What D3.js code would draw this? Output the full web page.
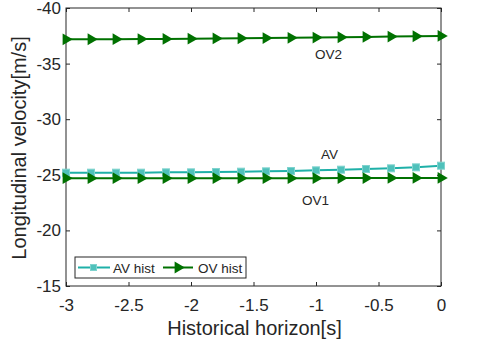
<!DOCTYPE html>
<html>
<head>
<meta charset="utf-8">
<script src="https://cdn.jsdelivr.net/npm/d3@7"></script>
<style>
	body { margin: 0; background: #fff; }
	text { font-family: "Liberation Sans", Arial, sans-serif; fill: #262626; }
</style>
</head>
<body>
<svg id="chart" width="480" height="349"></svg>
<script>
// time steps of the history window
const horizon = [-3, -2.8, -2.6, -2.4, -2.2, -2, -1.8, -1.6, -1.4, -1.2, -1, -0.8, -0.6, -0.4, -0.2, 0];
const avHist = [-25.19, -25.19, -25.19, -25.19, -25.22, -25.22, -25.25, -25.28, -25.31, -25.34, -25.40, -25.46, -25.52, -25.58, -25.67, -25.82];
const ov1Hist = [-24.70, -24.70, -24.70, -24.70, -24.70, -24.70, -24.70, -24.70, -24.70, -24.70, -24.70, -24.71, -24.71, -24.72, -24.72, -24.72];
const ov2Hist = [-37.18, -37.19, -37.20, -37.21, -37.22, -37.24, -37.26, -37.28, -37.30, -37.32, -37.34, -37.37, -37.40, -37.43, -37.46, -37.49];
const xTicks = [-3, -2.5, -2, -1.5, -1, -0.5, 0];
const yTicks = [-40, -35, -30, -25, -20, -15];

const svg = d3.select('#chart');
const m = { left: 66, top: 8, right: 441, bottom: 286 };

const x = d3.scaleLinear().domain([-3, 0]).range([m.left, m.right]);
const y = d3.scaleLinear().domain([-40, -15]).range([m.top, m.bottom]);

const avColor = '#1fb0a8';
const ovColor = '#007100';
const fmt = d => String(d); // plain hyphen minus like matlab

// axes, ticks pointing inward
svg.append('g').attr('transform', `translate(0,${m.bottom})`)
	.call(d3.axisBottom(x).tickValues(xTicks).tickSizeInner(-4).tickSizeOuter(0).tickPadding(13).tickFormat(fmt))
	.call(g => g.select('.domain').remove());
svg.append('g').attr('transform', `translate(0,${m.top})`)
	.call(d3.axisTop(x).tickValues(xTicks).tickSizeInner(-4).tickSizeOuter(0).tickFormat(''))
	.call(g => g.select('.domain').remove());
svg.append('g').attr('transform', `translate(${m.left},0)`)
	.call(d3.axisLeft(y).tickValues(yTicks).tickSizeInner(-4).tickSizeOuter(0).tickPadding(5).tickFormat(fmt))
	.call(g => g.select('.domain').remove());
svg.append('g').attr('transform', `translate(${m.right},0)`)
	.call(d3.axisRight(y).tickValues(yTicks).tickSizeInner(-4).tickSizeOuter(0).tickFormat(''))
	.call(g => g.select('.domain').remove());

svg.selectAll('.tick line').attr('stroke', '#262626');
svg.selectAll('.tick text').style('font-size', '17px').attr('fill', '#262626')
	.style('font-family', '"Liberation Sans", Arial, sans-serif');

svg.append('rect')
	.attr('x', m.left).attr('y', m.top)
	.attr('width', m.right - m.left).attr('height', m.bottom - m.top)
	.attr('fill', 'none').attr('stroke', '#262626').attr('stroke-width', 1);

const line = d3.line().x(d => x(d[0])).y(d => y(d[1]));
const tri = d3.symbol().type(d3.symbolTriangle).size(60);

function drawOv(vals) {
	const pts = horizon.map((h, i) => [h, vals[i]]);
	svg.append('path').datum(pts).attr('d', line)
		.attr('fill', 'none').attr('stroke', ovColor).attr('stroke-width', 2);
	svg.append('g').selectAll('path').data(pts).enter().append('path')
		.attr('d', tri)
		.attr('transform', d => `translate(${x(d[0])},${y(d[1])}) rotate(90)`)
		.attr('fill', ovColor);
}

const avPts = horizon.map((h, i) => [h, avHist[i]]);
svg.append('path').datum(avPts).attr('d', line)
	.attr('fill', 'none').attr('stroke', avColor).attr('stroke-width', 2);
svg.append('g').selectAll('rect').data(avPts).enter().append('rect')
	.attr('x', d => x(d[0]) - 3.5).attr('y', d => y(d[1]) - 3.5)
	.attr('width', 7).attr('height', 7)
	.attr('fill', '#4fc1bb').attr('stroke', '#7fd3ce').attr('stroke-width', 1);

drawOv(ov1Hist);
drawOv(ov2Hist);

// annotations
svg.append('text').attr('x', 321).attr('y', 159).style('font-size', '13.5px').text('AV');
svg.append('text').attr('x', 302).attr('y', 205).style('font-size', '13.5px').text('OV1');
svg.append('text').attr('x', 315).attr('y', 59).style('font-size', '13.5px').text('OV2');

// axis titles
svg.append('text').attr('x', (m.left + m.right) / 2 + 1).attr('y', 335)
	.attr('text-anchor', 'middle').style('font-size', '20px').text('Historical horizon[s]');
svg.append('text').attr('transform', `translate(26,${(m.top + m.bottom) / 2 + 1}) rotate(-90)`)
	.attr('text-anchor', 'middle').style('font-size', '20px').text('Longitudinal velocity[m/s]');

// legend
const lg = svg.append('g').attr('transform', 'translate(75,257)');
lg.append('rect').attr('width', 171).attr('height', 21)
	.attr('fill', '#fff').attr('stroke', '#262626').attr('stroke-width', 1);
lg.append('line').attr('x1', 3).attr('x2', 35).attr('y1', 10.5).attr('y2', 10.5)
	.attr('stroke', avColor).attr('stroke-width', 2);
lg.append('rect').attr('x', 15.5).attr('y', 7.5).attr('width', 6).attr('height', 6)
	.attr('fill', '#4fc1bb').attr('stroke', '#7fd3ce');
lg.append('text').attr('x', 38).attr('y', 15.5).style('font-size', '13.5px').text('AV hist');
lg.append('line').attr('x1', 88).attr('x2', 118).attr('y1', 10.5).attr('y2', 10.5)
	.attr('stroke', ovColor).attr('stroke-width', 2);
lg.append('path').attr('d', tri)
	.attr('transform', 'translate(103,10.5) rotate(90)').attr('fill', ovColor);
lg.append('text').attr('x', 123).attr('y', 15.5).style('font-size', '13.5px').text('OV hist');
</script>
</body>
</html>
